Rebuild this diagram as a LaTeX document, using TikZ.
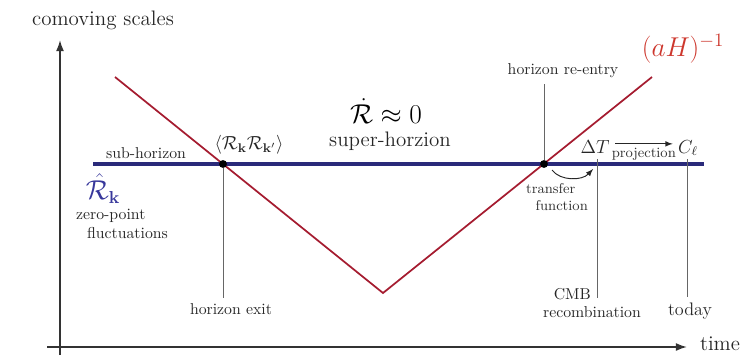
\documentclass[tikz,border=0pt]{standalone}
\usepackage{amsmath}
\usepackage{amssymb}
\usepackage{xcolor}
\usetikzlibrary{arrows.meta,positioning,calc}

\definecolor{hubblered}{RGB}{165,28,48}
\definecolor{hubbletext}{RGB}{205,55,45}
\definecolor{modeblue}{RGB}{42,42,122}
\definecolor{hatblue}{RGB}{55,55,155}

\begin{document}
\begin{tikzpicture}[
  x=0.634pt, y=-0.634pt,
  lbl/.style={text=black!85, font=\normalsize},
  big/.style={text=black!85, font=\fontsize{13.3}{16}\selectfont},
  mid/.style={text=black!85, font=\fontsize{12}{14}\selectfont},
  sml/.style={text=black!80, font=\small},
  axis/.style={-{Latex[length=7pt,width=5pt]}, line width=1pt, black!80},
  vline/.style={line width=0.6pt, black!60},
  horizon/.style={line width=1.1pt, hubblered},
  mode/.style={line width=2pt, modeblue},
  dot/.style={circle, fill=black, inner sep=0pt, minimum size=5pt},
  arr/.style={-latex, line width=0.6pt, black!85},
]
\useasboundingbox (0,0) rectangle (753,355);

% axes
\coordinate (ybot) at (60,355);
\coordinate (ytop) at (60,40);
\coordinate (xleft) at (47,347);
\coordinate (xright) at (687,347);
\draw[axis] (ybot) -- (ytop);
\draw[axis] (xleft) -- (xright);
\node[big] (ylbl) at (103,20) {comoving scales};
\node[big] (xlbl) at (720,344) {time};

% comoving Hubble radius and the mode
\coordinate (hstart) at (115,77);
\coordinate (hmin) at (383,293);
\coordinate (hend) at (652,77);
\coordinate (mstart) at (93,164);
\coordinate (mend) at (704,164);
\draw[mode] (mstart) -- (mend);
\draw[horizon] (hstart) -- (hmin) -- (hend);
\node[dot] (exit) at (223,164) {};
\node[dot] (reentry) at (544,164) {};
\node[text=hubbletext, font=\LARGE] (aH) at (683,49) {$(aH)^{-1}$};

% horizon crossings
\node[lbl] (exitlbl) at (231,309) {horizon exit};
\node[lbl] (entrylbl) at (563,71) {horizon re-entry};
\draw[vline] (exit) -- (exit |- exitlbl.north);
\draw[vline] (reentry) -- (reentry |- entrylbl.south);

% regions
\node[lbl] (sub) at (146,153) {sub-horizon};
\node[text=hatblue, inner sep=0.5pt, font=\fontsize{16}{18}\selectfont] (Rhat) at (103,189) {$\hat{\mathcal{R}}_{\mathbf{k}}$};
\node[lbl, align=left, inner sep=1pt] (zp) at (122,224) {zero-point\\\hspace*{7pt}fluctuations};
\node[mid] (corr) at (249,145) {$\langle\mathcal{R}_{\mathbf{k}}\mathcal{R}_{\mathbf{k}'}\rangle$};
\node[text=black, inner sep=0.5pt, font=\fontsize{16}{18}\selectfont] (rdot) at (386,111) {$\dot{\mathcal{R}}\approx 0$};
\node[big, inner sep=1pt] (super) at (390,141) {super-horzion};

% CMB and today
\node[mid] (DT) at (595,147) {$\Delta T$};
\node[mid] (Cl) at (688,148) {$C_\ell$};
\draw[arr] ([yshift=2pt]DT.east) -- node[sml, below=-1pt] (proj) {projection} ([yshift=2pt]DT.east -| Cl.west);
\coordinate (cmbtop) at (597,159);
\coordinate (cmbbot) at (597,298);
\coordinate (todaytop) at (687,159);
\node[lbl, align=center] (cmb) at (592,303) {CMB\hspace*{25pt}\\recombination};
\node[big, font=\fontsize{11.5}{14}\selectfont] (today) at (690,311) {today};
\draw[vline] (cmbtop) -- (cmbbot);
\draw[vline] (todaytop) -- (todaytop |- today.north);

% transfer function
\coordinate (tfa) at (552,170);
\coordinate (tfb) at (593,169);
\draw[arr] (tfa) .. controls (560,181) and (582,181) .. (tfb);
\node[sml, align=left] (tf) at (557,197) {transfer\\\hspace*{6pt}function};
\end{tikzpicture}
\end{document}
